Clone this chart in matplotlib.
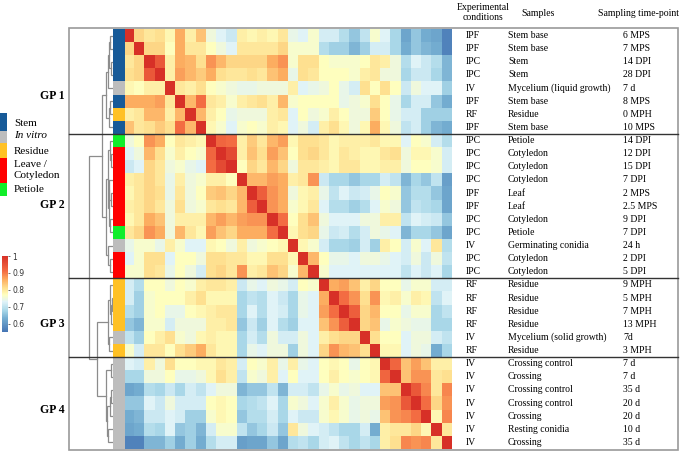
import numpy as np
import matplotlib
matplotlib.use("Agg")
import matplotlib.pyplot as plt
from matplotlib.colors import LinearSegmentedColormap, ListedColormap, Normalize
from matplotlib.patches import Rectangle

# ---------------- data ----------------
conditions = ["IPF", "IPF", "IPC", "IPC", "IV", "IPF", "RF", "IPF",
              "IPC", "IPC", "IPC", "IPC", "IPF", "IPF", "IPC", "IPC", "IV", "IPC", "IPC",
              "RF", "RF", "RF", "RF", "IV", "RF",
              "IV", "IV", "IV", "IV", "IV", "IV", "IV"]
samples = ["Stem base", "Stem base", "Stem", "Stem", "Mycelium (liquid growth)", "Stem base", "Residue", "Stem base",
           "Petiole", "Cotyledon", "Cotyledon", "Cotyledon", "Leaf", "Leaf", "Cotyledon", "Petiole",
           "Germinating conidia", "Cotyledon", "Cotyledon",
           "Residue", "Residue", "Residue", "Residue", "Mycelium (solid growth)", "Residue",
           "Crossing control", "Crossing", "Crossing control", "Crossing control", "Crossing",
           "Resting conidia", "Crossing"]
timepoints = ["6 MPS", "7 MPS", "14 DPI", "28 DPI", "7 d", "8 MPS", "0 MPH", "10 MPS",
              "14 DPI", "12 DPI", "15 DPI", "7 DPI", "2 MPS", "2.5 MPS", "9 DPI", "7 DPI",
              "24 h", "2 DPI", "5 DPI",
              "9 MPH", "5 MPH", "7 MPH", "13 MPH", "7d", "3 MPH",
              "7 d", "7 d", "35 d", "20 d", "20 d", "10 d", "35 d"]
tissue = ["Stem", "Stem", "Stem", "Stem", "In vitro", "Stem", "Residue", "Stem",
          "Petiole", "Leave", "Leave", "Leave", "Leave", "Leave", "Leave", "Petiole",
          "In vitro", "Leave", "Leave",
          "Residue", "Residue", "Residue", "Residue", "In vitro", "Residue",
          "In vitro", "In vitro", "In vitro", "In vitro", "In vitro", "In vitro", "In vitro"]
groups = ["GP 1", "GP 2", "GP 3", "GP 4"]
group_sizes = [8, 11, 6, 7]

# upper triangle of the correlation matrix (row i, columns i..31)
upper = [
    [1.0, 0.82, 0.80, 0.81, 0.78, 0.86, 0.79, 0.84, 0.75, 0.73, 0.71, 0.79, 0.78, 0.79, 0.78, 0.80,
     0.74, 0.73, 0.76, 0.72, 0.72, 0.69, 0.66, 0.70, 0.76, 0.73, 0.68, 0.62, 0.66, 0.63, 0.62, 0.57],
    [1.0, 0.82, 0.82, 0.77, 0.86, 0.80, 0.80, 0.77, 0.75, 0.73, 0.80, 0.80, 0.80, 0.80, 0.82,
     0.76, 0.76, 0.76, 0.69, 0.67, 0.67, 0.64, 0.67, 0.72, 0.72, 0.68, 0.63, 0.66, 0.64, 0.63, 0.57],
    [1.0, 0.94, 0.79, 0.86, 0.85, 0.81, 0.88, 0.85, 0.82, 0.82, 0.82, 0.82, 0.86, 0.88,
     0.76, 0.81, 0.81, 0.77, 0.76, 0.76, 0.76, 0.77, 0.80, 0.79, 0.75, 0.69, 0.73, 0.71, 0.69, 0.64],
    [1.0, 0.79, 0.87, 0.85, 0.83, 0.86, 0.81, 0.80, 0.80, 0.81, 0.80, 0.84, 0.86,
     0.74, 0.81, 0.80, 0.77, 0.77, 0.77, 0.76, 0.79, 0.80, 0.75, 0.75, 0.68, 0.71, 0.71, 0.68, 0.64],
    [1.0, 0.80, 0.79, 0.81, 0.77, 0.76, 0.75, 0.74, 0.74, 0.75, 0.75, 0.75,
     0.79, 0.73, 0.74, 0.75, 0.77, 0.74, 0.72, 0.81, 0.77, 0.81, 0.77, 0.71, 0.75, 0.73, 0.73, 0.67],
    [1.0, 0.85, 0.91, 0.80, 0.79, 0.76, 0.79, 0.80, 0.81, 0.79, 0.85,
     0.76, 0.77, 0.77, 0.77, 0.77, 0.74, 0.75, 0.76, 0.81, 0.77, 0.74, 0.68, 0.72, 0.72, 0.66, 0.63],
    [1.0, 0.85, 0.79, 0.77, 0.74, 0.75, 0.75, 0.75, 0.79, 0.80,
     0.73, 0.77, 0.75, 0.76, 0.79, 0.77, 0.75, 0.75, 0.83, 0.77, 0.74, 0.72, 0.72, 0.67, 0.67, 0.67],
    [1.0, 0.78, 0.76, 0.73, 0.76, 0.77, 0.76, 0.79, 0.78,
     0.73, 0.75, 0.72, 0.79, 0.81, 0.78, 0.75, 0.78, 0.86, 0.78, 0.75, 0.70, 0.72, 0.67, 0.64, 0.63],
    [1.0, 0.92, 0.91, 0.79, 0.83, 0.80, 0.85, 0.87,
     0.78, 0.81, 0.81, 0.80, 0.78, 0.79, 0.79, 0.79, 0.80, 0.78, 0.78, 0.73, 0.77, 0.76, 0.72, 0.69],
    [1.0, 0.96, 0.79, 0.84, 0.81, 0.87, 0.84,
     0.77, 0.81, 0.82, 0.80, 0.78, 0.80, 0.79, 0.78, 0.78, 0.80, 0.81, 0.75, 0.78, 0.78, 0.76, 0.72],
    [1.0, 0.77, 0.82, 0.80, 0.85, 0.82,
     0.75, 0.80, 0.80, 0.79, 0.78, 0.80, 0.80, 0.78, 0.78, 0.79, 0.79, 0.75, 0.77, 0.77, 0.76, 0.72],
    [1.0, 0.85, 0.85, 0.87, 0.86,
     0.79, 0.80, 0.88, 0.71, 0.68, 0.68, 0.66, 0.68, 0.68, 0.72, 0.70, 0.64, 0.68, 0.66, 0.70, 0.61],
    [1.0, 0.93, 0.88, 0.86,
     0.75, 0.78, 0.79, 0.74, 0.70, 0.73, 0.71, 0.72, 0.74, 0.77, 0.76, 0.66, 0.69, 0.69, 0.66, 0.62],
    [1.0, 0.88, 0.86,
     0.76, 0.78, 0.80, 0.73, 0.69, 0.69, 0.67, 0.69, 0.73, 0.76, 0.75, 0.66, 0.70, 0.69, 0.68, 0.62],
    [1.0, 0.91,
     0.77, 0.81, 0.84, 0.75, 0.73, 0.73, 0.73, 0.75, 0.75, 0.79, 0.79, 0.70, 0.73, 0.72, 0.71, 0.66],
    [1.0,
     0.78, 0.81, 0.82, 0.74, 0.71, 0.72, 0.69, 0.72, 0.75, 0.74, 0.73, 0.64, 0.68, 0.68, 0.66, 0.62],
    [1.0, 0.78, 0.76, 0.72, 0.68, 0.68, 0.67, 0.72, 0.67, 0.79, 0.77, 0.72, 0.76, 0.73, 0.80, 0.69],
    [1.0, 0.85, 0.77, 0.74, 0.74, 0.73, 0.75, 0.75, 0.74, 0.73, 0.72, 0.75, 0.71, 0.75, 0.70],
    [1.0, 0.76, 0.73, 0.73, 0.73, 0.73, 0.73, 0.73, 0.73, 0.70, 0.73, 0.71, 0.73, 0.68],
    [1.0, 0.86, 0.87, 0.84, 0.79, 0.82, 0.77, 0.77, 0.74, 0.76, 0.76, 0.72, 0.72],
    [1.0, 0.91, 0.88, 0.81, 0.88, 0.78, 0.79, 0.76, 0.79, 0.78, 0.70, 0.73],
    [1.0, 0.93, 0.82, 0.85, 0.77, 0.77, 0.74, 0.76, 0.76, 0.68, 0.70],
    [1.0, 0.82, 0.84, 0.74, 0.76, 0.75, 0.74, 0.74, 0.68, 0.68],
    [1.0, 0.81, 0.77, 0.77, 0.73, 0.75, 0.75, 0.72, 0.70],
    [1.0, 0.78, 0.78, 0.73, 0.75, 0.74, 0.63, 0.68],
    [1.0, 0.92, 0.84, 0.87, 0.84, 0.79, 0.79],
    [1.0, 0.84, 0.88, 0.88, 0.80, 0.81],
    [1.0, 0.94, 0.89, 0.80, 0.89],
    [1.0, 0.91, 0.82, 0.88],
    [1.0, 0.78, 0.89],
    [1.0, 0.80],
    [1.0],
]

# dendrogram merges: (child a, child b, height); ids >= 32 are earlier merges
links = [
    (2, 3, 1.5), (0, 1, 2.5), (33, 32, 3.5), (34, 4, 4.5), (5, 6, 3.0), (36, 7, 3.8),
    (35, 37, 6.5),
    (9, 10, 1.3), (8, 39, 2.8), (12, 13, 1.8), (11, 41, 3.3), (14, 15, 2.5), (42, 43, 4.2),
    (40, 44, 5.2), (17, 18, 2.8), (16, 46, 4.5), (45, 47, 6.8),
    (38, 48, 11.0),
    (20, 21, 1.2), (50, 22, 2.0), (19, 51, 3.0), (23, 24, 3.5), (52, 53, 4.5),
    (25, 26, 2.0), (27, 28, 1.5), (56, 29, 2.5), (30, 31, 4.5), (57, 58, 5.5), (55, 59, 7.0),
    (54, 60, 16.0),
    (49, 61, 24.0),
]

legend_labels = ["Stem", "In vitro", "Residue", "Leave /\nCotyledon", "Petiole"]
legend_colors = ["#175a98", "#bdbdbd", "#ffc125", "#ff0000", "#10ee2a"]
cbar_ticks = [0.6, 0.7, 0.8, 0.9, 1.0]
cbar_ticklabels = ["0.6", "0.7", "0.8", "0.9", "1"]

# ---------------- build matrix ----------------
n = len(samples)
M = np.zeros((n, n))
for i, row in enumerate(upper):
    M[i, i:] = row
M = np.triu(M) + np.triu(M, 1).T

# ---------------- figure ----------------
W, H = 685, 455
fig = plt.figure(figsize=(W / 100, H / 100), dpi=100)
serif = ["Liberation Serif", "DejaVu Serif"]


def rect(x0, y0, x1, y1):
    return [x0 / W, 1 - y1 / H, (x1 - x0) / W, (y1 - y0) / H]


top, bot = 29.0, 449.0
rowh = (bot - top) / n

cmap = LinearSegmentedColormap.from_list(
    "corr",
    [(0.0, "#4575b4"), ((0.63 - 0.55) / 0.45, "#74add1"), ((0.68 - 0.55) / 0.45, "#abd9e9"),
     ((0.73 - 0.55) / 0.45, "#e0f3f8"), ((0.77 - 0.55) / 0.45, "#ffffbf"),
     ((0.81 - 0.55) / 0.45, "#fee090"), ((0.86 - 0.55) / 0.45, "#fdae61"),
     ((0.91 - 0.55) / 0.45, "#f46d43"), (1.0, "#d73027")])
norm = Normalize(vmin=0.55, vmax=1.0)

# heatmap
axh = fig.add_axes(rect(124, top, 452, bot))
axh.imshow(M, cmap=cmap, norm=norm, aspect="auto", interpolation="nearest",
           extent=(0, n, n, 0))
axh.set_axis_off()

# side colour bar
tissue_order = ["Stem", "In vitro", "Residue", "Leave", "Petiole"]
side_idx = np.array([[tissue_order.index(t)] for t in tissue])
axs = fig.add_axes(rect(112.7, top, 124, bot))
axs.imshow(side_idx, cmap=ListedColormap(legend_colors), vmin=-0.5, vmax=4.5,
           aspect="auto", interpolation="nearest", extent=(0, 1, n, 0))
axs.set_axis_off()

# dendrogram
axd = fig.add_axes(rect(69, top, 112.7, bot))
pos = {i: (i + 0.5, 0.0) for i in range(n)}
for k, (a, b, h) in enumerate(links):
    ya, ha = pos[a]
    yb, hb = pos[b]
    axd.plot([ha, h, h, hb], [ya, ya, yb, yb], color="#8c8c8c", lw=0.9,
             solid_joinstyle="miter")
    pos[n + k] = ((ya + yb) / 2, h)
axd.set_xlim(43.7, 0)
axd.set_ylim(n, 0)
axd.set_axis_off()

# overlay in pixel coordinates for frame, table text and legend
ov = fig.add_axes([0, 0, 1, 1], facecolor="none")
ov.set_xlim(0, W)
ov.set_ylim(H, 0)
ov.set_axis_off()

ov.add_patch(Rectangle((69, 28), 678 - 69, 450 - 28, fill=False, ec="#9a9a9a", lw=1.2))
cum = np.cumsum(group_sizes)
for c in cum[:-1]:
    ov.plot([69, 678], [top + c * rowh] * 2, color="#333333", lw=1.0)

group_label_y = [96, 205, 324, 410]
for g, yy in zip(groups, group_label_y):
    ov.text(52, yy, g, ha="center", va="center", fontsize=8.5, fontweight="bold",
            family=serif)

fs = 7.0
for i in range(n):
    yy = top + (i + 0.5) * rowh
    ov.text(466, yy, conditions[i], ha="left", va="center", fontsize=fs, family=serif)
    ov.text(508, yy, samples[i], ha="left", va="center", fontsize=fs, family=serif)
    ov.text(623, yy, timepoints[i], ha="left", va="center", fontsize=fs, family=serif)

ov.text(483, 7, "Experimental", ha="center", va="center", fontsize=fs, family=serif)
ov.text(483, 18, "conditions", ha="center", va="center", fontsize=fs, family=serif)
ov.text(538, 13, "Samples", ha="center", va="center", fontsize=fs, family=serif)
ov.text(598, 13, "Sampling time-point", ha="left", va="center", fontsize=fs, family=serif)

# tissue legend
patch_spans = [(113, 131), (131, 143), (143, 158), (158, 183), (183, 196)]
text_ys = [123, 136, 151, 170, 189]
for lab, col, (y0, y1), ty in zip(legend_labels, legend_colors, patch_spans, text_ys):
    ov.add_patch(Rectangle((0, y0), 7.5, y1 - y0, color=col, lw=0))
    ov.text(14, ty, lab, ha="left", va="center", fontsize=8, family=serif,
            style="italic" if lab == "In vitro" else "normal", linespacing=1.15)

# colour scale
axc = fig.add_axes(rect(2, 256, 8, 332))
cb = fig.colorbar(matplotlib.cm.ScalarMappable(norm=norm, cmap=cmap), cax=axc,
                  ticks=cbar_ticks)
cb.set_ticklabels(cbar_ticklabels)
cb.outline.set_visible(False)
axc.tick_params(labelsize=5.5, length=1.5, width=0.5, pad=1.5, colors="#333333")

fig.savefig("out.png", dpi=100)
